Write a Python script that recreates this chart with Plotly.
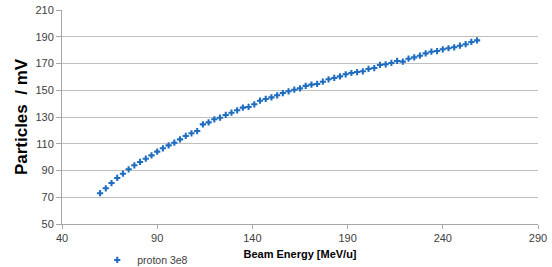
import plotly.graph_objects as go

energy = list(range(60, 259, 3))
particles = [
    73.0, 76.7, 80.6, 84.4, 87.6, 90.9, 93.9, 96.4, 98.8, 101.3,
    104.1, 106.6, 108.8, 110.8, 113.3, 115.8, 117.8, 119.5, 124.5, 126.0,
    128.3, 129.5, 131.5, 133.2, 135.0, 137.0, 137.5, 139.5, 142.2, 143.5,
    144.7, 146.2, 147.9, 149.2, 150.4, 151.4, 153.3, 154.2, 154.7, 156.4,
    158.2, 159.2, 160.4, 161.9, 162.9, 163.6, 164.2, 165.9, 166.6, 168.9,
    169.4, 170.4, 171.9, 171.4, 173.6, 174.6, 175.8, 177.6, 178.8, 179.3,
    180.6, 181.4, 182.1, 183.3, 184.4, 186.1, 187.3,
]
series_name = "proton 3e8"
x_ticks = [40, 90, 140, 190, 240, 290]
y_ticks = [50, 70, 90, 110, 130, 150, 170, 190, 210]

color = "#1F6DC0"
font = "Liberation Sans, Arial, sans-serif"

fig = go.Figure()
fig.add_trace(go.Scatter(
    x=energy, y=particles, mode="markers", name=series_name,
    marker=dict(symbol="cross", size=5.2, color=color),
))

fig.update_layout(
    width=552, height=267,
    margin=dict(l=62, r=14, t=10, b=43, autoexpand=False),
    paper_bgcolor="white", plot_bgcolor="white",
    font=dict(family=font, size=11, color="#404040"),
    showlegend=True,
    legend=dict(orientation="h", x=0.074, y=-0.168, xanchor="left", yanchor="middle",
                font=dict(size=10.5, color="#404040"), itemwidth=30,
                bgcolor="rgba(0,0,0,0)"),
    xaxis=dict(
        range=[40, 290], tickvals=x_ticks, showgrid=False,
        showline=True, linecolor="#a6a6a6", linewidth=1,
        ticks="outside", ticklen=4, tickcolor="#a6a6a6",
        zeroline=False, automargin=False,
        title=dict(text="<b>Beam Energy [MeV/u]</b>", font=dict(size=11, color="#000000"), standoff=7),
    ),
    yaxis=dict(
        range=[50, 210], tickvals=y_ticks, showgrid=True, gridcolor="#bfbfbf", gridwidth=1,
        showline=True, linecolor="#a6a6a6", linewidth=1,
        ticks="outside", ticklen=5, tickcolor="#a6a6a6",
        zeroline=False, automargin=False,
        title=dict(text="<b>Particles  / mV</b>", font=dict(size=17, color="#000000"), standoff=3),
    ),
)

fig.write_html(
    "out.html",
    config={"displayModeBar": False},
    post_script="document.body.style.margin='0';document.body.style.overflow='hidden';",
)
